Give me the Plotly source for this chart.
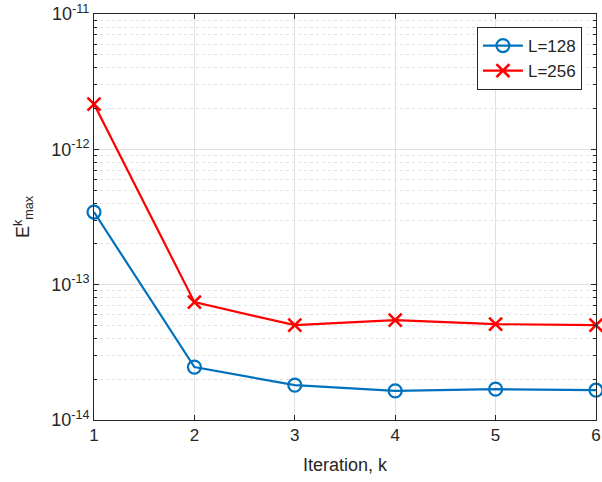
import plotly.graph_objects as go

iterations = [1, 2, 3, 4, 5, 6]
err_L128 = [3.44e-13, 2.46e-14, 1.81e-14, 1.64e-14, 1.69e-14, 1.66e-14]
err_L256 = [2.16e-12, 7.43e-14, 5.02e-14, 5.47e-14, 5.11e-14, 5.02e-14]
x_ticks = [1, 2, 3, 4, 5, 6]
y_tickvals = [1e-14, 1e-13, 1e-12, 1e-11]
y_ticktext = ["10<sup>-14</sup>", "10<sup>-13</sup>", "10<sup>-12</sup>", "10<sup>-11</sup>"]
y_minor = [k * 10.0 ** e for e in (-14, -13, -12) for k in range(2, 10)]

axis_col = "#262626"
font = dict(family="Liberation Sans, Arial, sans-serif", size=17, color=axis_col)

fig = go.Figure()
fig.add_trace(go.Scatter(
    x=iterations, y=err_L128, name="L=128", mode="lines+markers",
    line=dict(color="#0072BD", width=2.2),
    marker=dict(symbol="circle-open", size=13, line=dict(width=2.2, color="#0072BD")),
    cliponaxis=False))
fig.add_trace(go.Scatter(
    x=iterations, y=err_L256, name="L=256", mode="lines+markers",
    line=dict(color="#FF0000", width=2.2),
    marker=dict(symbol="x-thin-open", size=13, line=dict(width=2.6, color="#FF0000")),
    cliponaxis=False))

fig.update_layout(
    width=602, height=482,
    margin=dict(l=94, r=6, t=14, b=62, autoexpand=False),
    paper_bgcolor="white", plot_bgcolor="white",
    font=font,
    showlegend=True,
    legend=dict(x=0.972, y=0.968, xanchor="right", yanchor="top",
                bordercolor=axis_col, borderwidth=1, bgcolor="white",
                font=dict(size=17), tracegroupgap=0, itemwidth=40),
    xaxis=dict(
        range=[1, 6], tickvals=x_ticks, ticks="inside", ticklen=5,
        tickcolor=axis_col, showline=True, linecolor=axis_col, linewidth=1,
        mirror="ticks", showgrid=True, gridcolor="#E0E0E0", gridwidth=1,
        zeroline=False, tickfont=dict(size=17), automargin=False,
        ticklabeloverflow="allow",
        title=dict(text="Iteration, k", font=dict(size=18), standoff=13)),
    yaxis=dict(
        type="log", range=[-14, -11], tickvals=y_tickvals, ticktext=y_ticktext,
        ticks="inside", ticklen=5, tickcolor=axis_col,
        showline=True, linecolor=axis_col, linewidth=1, mirror="ticks",
        showgrid=True, gridcolor="#E0E0E0", gridwidth=1, zeroline=False,
        tickfont=dict(size=18), automargin=False, ticklabeloverflow="allow",
        minor=dict(tickvals=y_minor, ticks="inside", ticklen=3, tickcolor=axis_col,
                   showgrid=True, gridcolor="#E2E2E2", griddash="dot", gridwidth=1),
        title=dict(text="E<sup>k</sup><sub>max</sub>", font=dict(size=18), standoff=16)),
)

fig.write_html("out.html", config={"displayModeBar": False},
               post_script="document.body.style.margin='0';document.body.style.padding='0';")
